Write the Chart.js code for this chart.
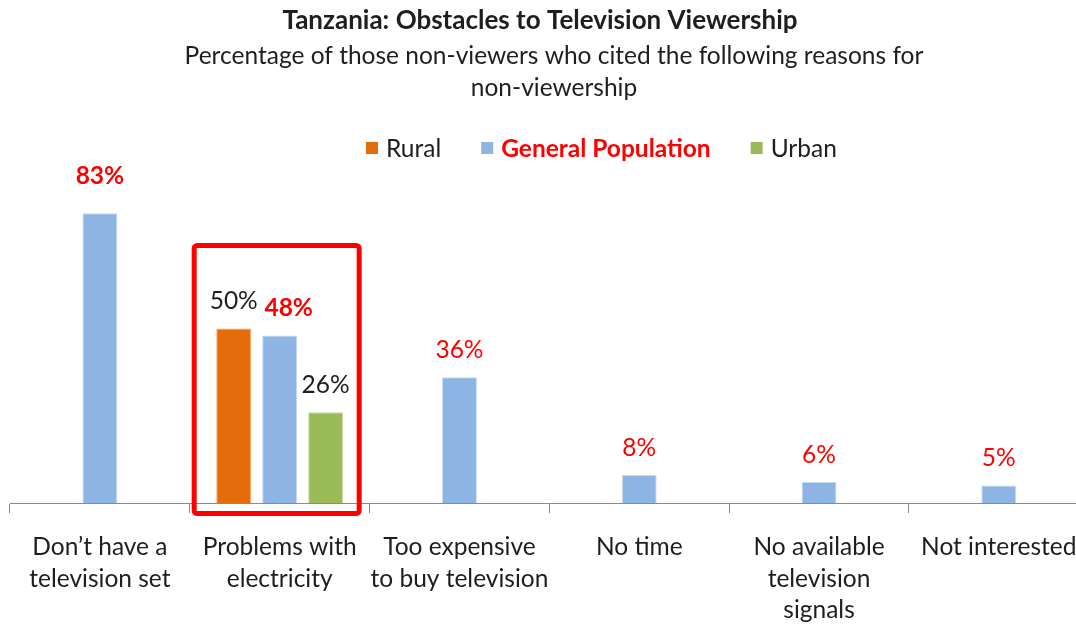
<!DOCTYPE html>
<html>
<head>
<meta charset="utf-8">
<title>Tanzania: Obstacles to Television Viewership</title>
<script src="https://cdn.jsdelivr.net/npm/chart.js@4.4.0/dist/chart.umd.min.js"></script>
<style>
  html, body { margin: 0; padding: 0; background: #fff; overflow: hidden; }
  #wrap { position: relative; width: 1096px; height: 624px; }
</style>
</head>
<body>
<div id="wrap"><canvas id="tvChart"></canvas></div>
<script>
const reasons = [
    ['Don\u2019t have a', 'television set'],
    ['Problems with', 'electricity'],
    ['Too expensive', 'to buy television'],
    ['No time'],
    ['No available', 'television', 'signals'],
    ['Not interested']
];
const rural = [null, 50, null, null, null, null];
const generalPopulation = [83, 48, 36, 8, 6, 5];
const urban = [null, 26, null, null, null, null];

const titleText = 'Tanzania: Obstacles to Television Viewership';
const subtitleLines = ['Percentage of those non-viewers who cited the following reasons for', 'non-viewership'];

const FONT = 'Lato, "Open Sans", sans-serif';
const TEXT = '#1e1e1e';
const RED = '#ff0000';

// header + legend drawn by hand (the legend needs one bold red entry)
const header = {
    id: 'header',
    afterDraw(chart) {
        const ctx = chart.ctx;
        ctx.save();
        ctx.textAlign = 'center';
        ctx.textBaseline = 'middle';
        ctx.fillStyle = TEXT;
        ctx.font = 'bold 26px ' + FONT;
        ctx.fillText(titleText, 540, 21);
        ctx.font = '24.5px ' + FONT;
        ctx.fillText(subtitleLines[0], 554, 56);
        ctx.fillText(subtitleLines[1], 554, 88);

        // legend row
        let x = 366;
        const y = 148;
        ctx.textAlign = 'left';
        chart.data.datasets.forEach(ds => {
            ctx.fillStyle = ds.backgroundColor;
            ctx.fillRect(x, y - 6, 12, 12);
            x += 20;
            const gp = ds.label === 'General Population';
            ctx.font = (gp ? 'bold ' : '') + '24.5px ' + FONT;
            ctx.fillStyle = gp ? RED : TEXT;
            ctx.fillText(ds.label, x, y + 1);
            x += ctx.measureText(ds.label).width + 40;
        });
        ctx.restore();
    }
};

// percentage labels above the bars
const barLabels = {
    id: 'barLabels',
    afterDatasetsDraw(chart) {
        const ctx = chart.ctx;
        ctx.save();
        ctx.textAlign = 'center';
        ctx.textBaseline = 'middle';
        chart.data.datasets.forEach((ds, di) => {
            const meta = chart.getDatasetMeta(di);
            meta.data.forEach((bar, i) => {
                const v = ds.data[i];
                if (v === null) return;
                const gp = ds.label === 'General Population';
                const bold = gp && i < 2;
                ctx.font = (bold ? 'bold ' : '') + '24.5px ' + FONT;
                ctx.fillStyle = gp ? RED : TEXT;
                const lift = (gp && i === 0) ? 37 : 27;
                // nudge the middle label of the crowded group to the right
                const shift = (gp && rural[i] !== null) ? 9 : 0;
                ctx.fillText(v + '%', bar.x + shift, bar.y - lift);
            });
        });
        ctx.restore();
    }
};

// red frame around the electricity group
const highlightBox = {
    id: 'highlightBox',
    afterDraw(chart) {
        const xs = chart.scales.x, ys = chart.scales.y;
        const cx = xs.getPixelForValue(1) - 3;
        const left = cx - 82.5, right = cx + 82.5;
        const top = ys.getPixelForValue(50) - 83;
        const bottom = chart.chartArea.bottom + 10.5;
        const ctx = chart.ctx;
        ctx.save();
        ctx.strokeStyle = RED;
        ctx.lineWidth = 5;
        ctx.lineJoin = 'round';
        ctx.beginPath();
        ctx.roundRect(left, top, right - left, bottom - top, 3);
        ctx.stroke();
        ctx.restore();
    }
};

new Chart(document.getElementById('tvChart'), {
    type: 'bar',
    data: {
        labels: reasons,
        datasets: [
            { label: 'Rural', data: rural, backgroundColor: '#e46c0a', borderColor: '#f4a56a', borderWidth: 1 },
            { label: 'General Population', data: generalPopulation, backgroundColor: '#8eb4e3', borderColor: '#c6daf2', borderWidth: 1 },
            { label: 'Urban', data: urban, backgroundColor: '#9bbb59', borderColor: '#cbdcab', borderWidth: 1 }
        ]
    },
    options: {
        responsive: true,
        maintainAspectRatio: false,
        animation: false,
        categoryPercentage: 0.767,
        barPercentage: 0.76,
        layout: { padding: { top: 154, left: 10, right: 6, bottom: 0 } },
        plugins: {
            legend: { display: false },
            title: { display: false },
            tooltip: { enabled: false }
        },
        scales: {
            y: {
                display: false,
                min: 0,
                max: 100
            },
            x: {
                grid: { offset: true, drawOnChartArea: false, tickLength: 10, color: '#8a8a8a' },
                border: { color: '#8a8a8a', width: 1 },
                ticks: {
                    color: TEXT,
                    font: { family: FONT, size: 24.5, lineHeight: 1.27 },
                    padding: 19,
                    maxRotation: 0,
                    autoSkip: false
                },
                afterFit(axis) { axis.height = 121; }
            }
        }
    },
    plugins: [header, barLabels, highlightBox]
});
</script>
</body>
</html>
